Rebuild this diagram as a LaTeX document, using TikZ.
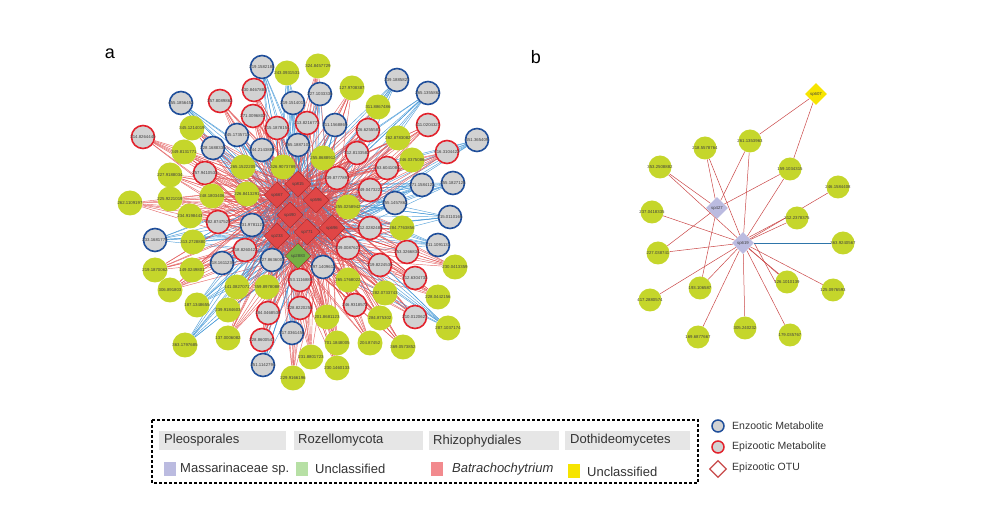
\documentclass[tikz,border=0pt]{standalone}
\usepackage{fontspec}
\setmainfont{Liberation Sans}
\usetikzlibrary{shapes.geometric}
\pgfdeclarelayer{bg}
\pgfsetlayers{bg,main}
\definecolor{ngreen}{HTML}{C5D62B}
\definecolor{ngrey}{HTML}{D2D2D2}
\definecolor{nblue}{HTML}{1F4E9A}
\definecolor{nred}{HTML}{E2222C}
\definecolor{hubred}{HTML}{E04646}
\definecolor{hubedge}{HTML}{B02828}
\definecolor{hubgreen}{HTML}{74B044}
\definecolor{ered}{HTML}{E05050}
\definecolor{eblue}{HTML}{3A92D4}
\definecolor{egrey}{HTML}{9A9AAA}
\definecolor{lav}{HTML}{BBBBE0}
\definecolor{yel}{HTML}{F6E400}
\definecolor{lgreen}{HTML}{B7E0A5}
\definecolor{lpink}{HTML}{F28A8E}
\definecolor{hdr}{HTML}{E6E6E6}
\definecolor{otured}{HTML}{C84A4A}
\definecolor{btxt}{HTML}{333333}
\tikzset{
  lbl/.style={font=\fontsize{4.3}{5}\selectfont, text=black!75},
  bnode/.style={circle, minimum size=23pt, inner sep=0pt, fill=ngrey, draw=nblue, line width=1.6pt, lbl},
  rnode/.style={circle, minimum size=23pt, inner sep=0pt, fill=ngrey, draw=nred, line width=1.6pt, lbl},
  gnode/.style={circle, minimum size=25pt, inner sep=0pt, fill=ngreen, lbl},
  pbnode/.style={circle, minimum size=23pt, inner sep=0pt, fill=ngreen, lbl},
  hub/.style={diamond, minimum size=26pt, inner sep=0pt, fill=hubred, draw=hubedge, line width=0.5pt, lbl},
  hubg/.style={diamond, minimum size=26pt, inner sep=0pt, fill=hubgreen, draw=hubedge, line width=0.5pt, lbl},
  bdia/.style={diamond, minimum size=22pt, inner sep=0pt, lbl},
  redline/.style={draw=ered, line width=0.45pt, opacity=0.85},
  blueline/.style={draw=eblue, line width=0.45pt, opacity=0.85},
  greyline/.style={draw=egrey, line width=1.4pt, opacity=0.8},
  bred/.style={draw=ered!90!black, line width=0.5pt},
  bblue/.style={draw=eblue!80!black, line width=0.5pt},
  legtxt/.style={font=\fontsize{13}{15}\selectfont, text=btxt, anchor=west, inner sep=0pt},
  legtxt2/.style={font=\fontsize{10.5}{12}\selectfont, text=btxt, anchor=west, inner sep=0pt},
  swatch/.style={minimum width=12pt, minimum height=14pt, inner sep=0pt},
  hdrbox/.style={fill=hdr, minimum height=19pt, inner sep=0pt, anchor=west},
}
\begin{document}
\begin{tikzpicture}[x=1pt,y=-1pt]
\useasboundingbox (0,0) rectangle (986,529);
% panel labels
\node[font=\fontsize{18}{20}\selectfont] (la) at (110,54) {a};
\node[font=\fontsize{18}{20}\selectfont] (lb) at (536,57) {b};
% hubs panel a
\foreach \x/\y/\n/\l in {277/195/h1/sp667, 298/184/h2/sp815, 316/200/h3/sp596, 290/215/h4/sp490, 277/236/h5/sp233, 307/232/h6/sp771, 332/228/h7/sp696}
  \node[hub] (\n) at (\x,\y) {\makebox[0pt]{\l}};
\node[hubg] (h8) at (298,256) {\makebox[0pt]{sp2883}};
\begin{pgfonlayer}{bg}
\foreach \i in {1,...,7}{
  \pgfmathtruncatemacro\k{\i+1}
  \foreach \j in {\k,...,8}{\draw[greyline] (h\i) -- (h\j);}
}
\end{pgfonlayer}
% outer nodes panel a
\foreach \x/\y/\s/\c/\l [count=\k] in {
262/67/bnode/blueline/219.1582188,
181/103/bnode/blueline/455.1856452,
293/103/bnode/blueline/219.1514015,
320/94/bnode/blueline/227.1033336,
237/135/bnode/blueline/245.1735713,
213/148/bnode/blueline/228.1688338,
262/150/bnode/blueline/244.2143889,
298/145/bnode/blueline/265.1887103,
335/125/bnode/blueline/211.1568869,
397/80/bnode/blueline/339.1885827,
428/93/bnode/blueline/265.1355862,
477/140/bnode/blueline/451.365409,
422/185/bnode/blueline/271.1584123,
453/183/bnode/blueline/355.1827128,
395/203/bnode/blueline/255.1457862,
450/217/bnode/blueline/215.0110166,
438/245/bnode/blueline/211.1091131,
252/225/bnode/blueline/231.9781123,
155/240/bnode/blueline/233.1681779,
222/263/bnode/blueline/218.1611236,
272/260/bnode/blueline/227.8636001,
323/267/bnode/blueline/197.1409612,
292/333/bnode/blueline/217.0361456,
263/365/bnode/blueline/251.1142794,
254/90/rnode/redline/430.8467884,
220/101/rnode/redline/357.8089862,
253/116/rnode/redline/271.0096802,
143/137/rnode/redline/314.8264440,
277/128/rnode/redline/215.1878154,
307/123/rnode/redline/213.8216773,
205/173/rnode/redline/257.9410533,
368/130/rnode/redline/326.6255581,
428/125/rnode/redline/111.0204327,
357/153/rnode/redline/312.8133582,
447/152/rnode/redline/416.3104422,
387/168/rnode/redline/263.6041084,
337/178/rnode/redline/239.8777891,
370/190/rnode/redline/249.0473223,
218/222/rnode/redline/282.8747525,
245/250/rnode/redline/218.8260423,
300/280/rnode/redline/153.1116886,
268/313/rnode/redline/184.0468538,
300/308/rnode/redline/228.8220258,
262/340/rnode/redline/228.8600547,
370/228/rnode/redline/212.0282488,
348/248/rnode/redline/239.0087621,
380/265/rnode/redline/219.8224536,
407/252/rnode/redline/253.3266834,
415/278/rnode/redline/212.6304733,
355/305/rnode/redline/246.9318572,
415/317/rnode/redline/210.0120627,
287/73/gnode/blueline/243.0931531,
318/66/gnode/redline/324.8457729,
352/88/gnode/redline/127.9708387,
378/107/gnode/redline/311.8867486,
398/138/gnode/redline/262.8783082,
412/160/gnode/redline/246.0375086,
192/128/gnode/redline/345.1214019,
184/152/gnode/redline/349.8131771,
243/167/gnode/redline/265.1522205,
283/167/gnode/redline/326.9073789,
323/158/gnode/redline/255.8688912,
348/207/gnode/redline/255.0258942,
170/175/gnode/redline/227.9188034,
170/199/gnode/redline/225.9221019,
130/203/gnode/redline/262.1109197,
212/196/gnode/redline/248.1803406,
247/194/gnode/redline/226.8413291,
190/216/gnode/redline/234.9198443,
193/242/gnode/blueline/313.2728880,
155/270/gnode/redline/219.1870062,
192/270/gnode/redline/149.0249801,
170/290/gnode/redline/306.891803,
237/287/gnode/blueline/141.0827071,
267/287/gnode/redline/359.8978088,
197/305/gnode/blueline/187.1348655,
228/310/gnode/redline/239.9184603,
185/345/gnode/blueline/363.1797685,
228/338/gnode/redline/137.0006082,
311/357/gnode/redline/231.8801723,
293/378/gnode/redline/229.9166196,
402/228/gnode/redline/284.7763856,
455/267/gnode/redline/230.0413359,
348/280/gnode/redline/265.1768022,
385/293/gnode/redline/282.0733743,
438/297/gnode/redline/228.0442156,
327/317/gnode/redline/201.8681123,
380/318/gnode/redline/284.875302,
448/328/gnode/blueline/287.1037174,
337/343/gnode/redline/701.1848005,
370/343/gnode/redline/204.87452,
403/347/gnode/redline/369.0573852,
337/368/gnode/redline/230.1460133}{
  \node[\s] (a\k) at (\x,\y) {\makebox[0pt]{\l}};
  \begin{pgfonlayer}{bg}
  \foreach \h in {1,...,8}{\draw[\c] (a\k) -- (h\h);}
  \end{pgfonlayer}
}
% panel b
\node[bdia, fill=yel] (sp607) at (816,94) {\makebox[0pt]{sp607}};
\node[bdia, fill=lav] (sp427) at (717,208) {\makebox[0pt]{sp427}};
\node[bdia, fill=lav] (sp619) at (743,243) {\makebox[0pt]{sp619}};
\foreach \x/\y/\n/\l in {
750/141/c1/261.1353963, 705/148/c2/218.5578764, 660/167/c3/353.2508882,
790/169/c4/159.1034315, 838/187/c5/246.1584408, 652/212/c6/237.0418335,
797/218/c7/312.2378375, 658/253/c8/227.038741, 843/243/c9/363.9240567,
650/300/c10/417.2880574, 700/288/c11/193.106587, 787/282/c12/126.1010139,
833/290/c13/125.0976593, 698/337/c14/169.6877667, 745/328/c15/305.240232,
790/335/c16/179.035767}
  \node[pbnode] (\n) at (\x,\y) {\makebox[0pt]{\l}};
\begin{pgfonlayer}{bg}
\foreach \n in {c1,c4} \draw[bred] (sp607) -- (\n);
\foreach \n in {c1,c2,c3,c4,c8,c11} \draw[bred] (sp427) -- (\n);
\foreach \n in {c1,c2,c3,c4,c5,c6,c7,c8,c10,c11,c12,c13,c14,c15,c16} \draw[bred] (sp619) -- (\n);
\draw[bred] (sp619.north east) -- (c7.west);
\draw[bred] (sp619.south east) -- (c12.north west);
\draw[bred] (sp619.east) -- (c12.west);
\draw[bblue] (sp619) -- (c9);
\end{pgfonlayer}
% legend box
\draw[line width=1.3pt, dash pattern=on 3pt off 2pt] (152,420) rectangle (698,483);
\node[hdrbox, minimum width=127pt] (hd1) at (159,440.5) {};
\node[hdrbox, minimum width=129pt] (hd2) at (294,440.5) {};
\node[hdrbox, minimum width=130pt] (hd3) at (429,440.5) {};
\node[hdrbox, minimum width=125pt] (hd4) at (565,440.5) {};
\node[legtxt] (t1) at (164,440.5) {Pleosporales};
\node[legtxt] (t2) at (298,440.5) {Rozellomycota};
\node[legtxt] (t3) at (433,441.5) {Rhizophydiales};
\node[legtxt] (t4) at (570,440.5) {Dothideomycetes};
\node[swatch, fill=lav] (s1) at (170,469) {};
\node[swatch, fill=lgreen] (s2) at (302,469) {};
\node[swatch, fill=lpink] (s3) at (437,469) {};
\node[swatch, fill=yel] (s4) at (574,470.5) {};
\node[legtxt] (u1) at (180,469) {Massarinaceae sp.};
\node[legtxt] (u2) at (315,468.5) {Unclassified};
\node[legtxt] (u3) at (452,469) {\itshape Batrachochytrium};
\node[legtxt] (u4) at (587,471.5) {Unclassified};
% right legend
\node[circle, minimum size=12pt, inner sep=0pt, fill=ngrey, draw=nblue, line width=1.5pt] (k1) at (718,426) {};
\node[circle, minimum size=12pt, inner sep=0pt, fill=ngrey, draw=nred, line width=1.5pt] (k2) at (718,447) {};
\node[diamond, minimum size=17pt, inner sep=0pt, fill=white, draw=otured, line width=1.2pt] (k3) at (718,469) {};
\node[legtxt2] (kt1) at (732,426) {Enzootic Metabolite};
\node[legtxt2] (kt2) at (732,447) {Epizootic Metabolite};
\node[legtxt2] (kt3) at (732,468) {Epizootic OTU};
\end{tikzpicture}
\end{document}
